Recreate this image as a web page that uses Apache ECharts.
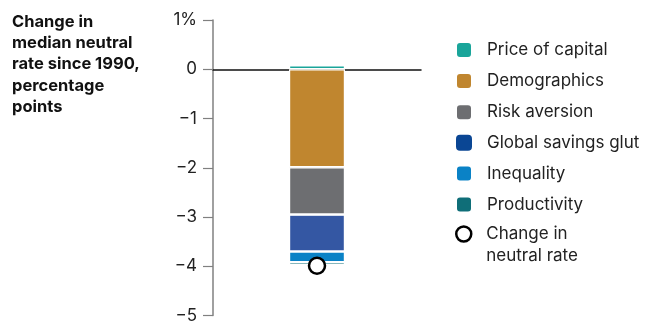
<!DOCTYPE html>
<html><head><meta charset="utf-8">
<script src="https://cdn.jsdelivr.net/npm/echarts@6/dist/echarts.min.js"></script>
<style>html,body{margin:0;padding:0;background:#fff}#c{width:652px;height:324px}</style>
</head><body><div id="c"></div>
<script>
const categories = [''];
const priceOfCapital = [0.08];
const demographics = [-1.99];
const riskAversion = [-0.96];
const savingsGlut = [-0.75];
const inequality = [-0.22];
const productivity = [-0.06];
const neutralRateChange = [-3.99];
const yTicks = [1, 0, -1, -2, -3, -4, -5];
const titleLines = ['Change in', 'median neutral', 'rate since 1990,', 'percentage', 'points'];

const FONT = 'Inter';
const chart = echarts.init(document.getElementById('c'), null, {renderer: 'canvas'});
const bar = (name, data, color) => ({
  name, type: 'bar', stack: 'total', data, barWidth: 56,
  itemStyle: {color, borderColor: '#fff', borderWidth: 1.2}
});
chart.setOption({
  animation: false,
  textStyle: {fontFamily: FONT},
  graphic: [{
    type: 'text', left: 12, top: 11,
    style: {text: titleLines.join('\n'), font: 'bold 16.5px ' + FONT, lineHeight: 21.3, fill: '#111'}
  }],
  grid: {left: 213, top: 20, width: 208, bottom: 7, containLabel: false},
  xAxis: {
    type: 'category', data: categories,
    axisLine: {onZero: true, lineStyle: {color: '#111', width: 1.5}},
    axisTick: {show: false}, axisLabel: {show: false}
  },
  yAxis: {
    type: 'value', min: yTicks[yTicks.length - 1], max: yTicks[0], interval: 1,
    splitLine: {show: false},
    axisLine: {show: true, lineStyle: {color: '#808080', width: 1.5}},
    axisTick: {show: true, length: 10, lineStyle: {color: '#808080', width: 1.2}},
    axisLabel: {
      margin: 16, fontSize: 17, color: '#222', fontFamily: FONT,
      formatter: v => v === 1 ? '1%' : (v < 0 ? '\u2212' + (-v) : String(v))
    }
  },
  legend: [{
    orient: 'vertical', left: 455, top: 41, padding: 0, itemWidth: 16, itemHeight: 16, itemGap: 13.1,
    textStyle: {fontSize: 17, color: '#222', fontFamily: FONT, padding: [0, 0, 0, 10]},
    data: [
      {name: 'Price of capital'},
      {name: 'Demographics'},
      {name: 'Risk aversion'},
      {name: 'Global savings glut', itemStyle: {color: '#0a4694', borderWidth: 0}},
      {name: 'Inequality'},
      {name: 'Productivity'}
    ]
  }, {
    orient: 'vertical', left: 455, top: 201, padding: 0, itemWidth: 15, itemHeight: 15,
    textStyle: {fontSize: 17, lineHeight: 22, color: '#222', fontFamily: FONT, padding: [0, 0, 0, 10]},
    formatter: name => '\n' + name,
    data: [
      {name: 'Change in\nneutral rate', icon: 'circle',
       itemStyle: {color: '#fff', borderColor: '#000', borderWidth: 2.5}}
    ]
  }],
  series: [
    bar('Price of capital', priceOfCapital, '#1aa59a'),
    bar('Demographics', demographics, '#c0862f'),
    bar('Risk aversion', riskAversion, '#6d6e71'),
    bar('Global savings glut', savingsGlut, '#3457a3'),
    bar('Inequality', inequality, '#0a82c6'),
    bar('Productivity', productivity, '#0f6e78'),
    {
      name: 'Change in\nneutral rate', type: 'scatter', data: neutralRateChange,
      symbol: 'circle', symbolSize: 16, z: 5,
      itemStyle: {color: '#fff', borderColor: '#000', borderWidth: 2.5, opacity: 1}
    }
  ]
});
</script></body></html>
